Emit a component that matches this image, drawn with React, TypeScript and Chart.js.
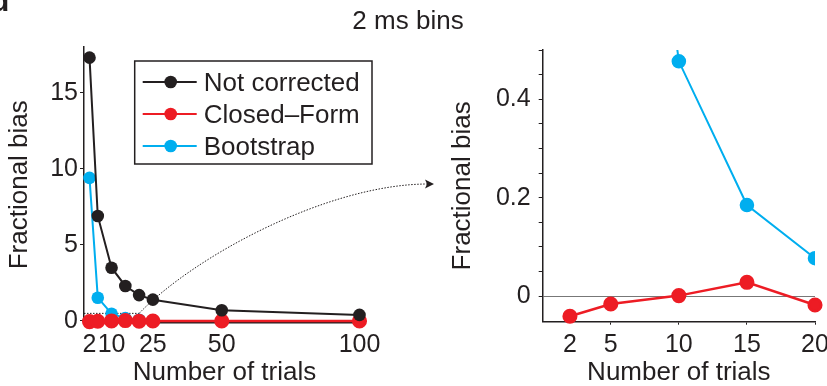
import React, { useEffect, useRef } from "react";
import { Chart, registerables } from "chart.js";
Chart.register(...registerables);

const trials = [2, 5, 10, 15, 20, 25, 50, 100];
const notCorrected = [17.3, 6.9, 3.5, 2.3, 1.7, 1.4, 0.7, 0.4];
const closedForm = [-0.041, -0.016, 0.001, 0.028, -0.018, 0, 0, 0];
const bootstrap = [9.4, 1.53, 0.477, 0.185, 0.077];
const seriesLabels = ["Not corrected", "Closed\u2013Form", "Bootstrap"];
const leftXTicks = [2, 10, 25, 50, 100];
const leftYTicks = [0, 5, 10, 15];
const rightXTicks = [2, 5, 10, 15, 20];
const rightYTicks = [0, 0.05, 0.1, 0.15, 0.2, 0.25, 0.3, 0.35, 0.4, 0.45, 0.5];
const rightYLabels = [0, 0.2, 0.4];
const zoomMaxTrials = 20;
const zoomMaxBias = 0.5;
const figureTitle = "2 ms bins";
const panelLetter = "d";

const BLACK = "#231f20";
const RED = "#ed1c24";
const BLUE = "#00aeef";
const FONT = "'Liberation Sans', Arial, Helvetica, sans-serif";

const pts = (ys: number[]) => ys.map((y, i) => ({ x: trials[i], y }));
const zoomPts = (ys: number[]) =>
  pts(ys).filter((p) => p.x <= zoomMaxTrials);

const overlayPlugin = {
  id: "overlay",
  beforeDatasetsDraw(chart: any) {
    const { ctx, chartArea, scales } = chart;
    const xs = scales.x;
    const ys = scales.y;
    const bx = xs.getPixelForValue(zoomMaxTrials);
    const by = ys.getPixelForValue(zoomMaxBias);
    ctx.save();
    ctx.strokeStyle = BLACK;
    ctx.lineWidth = 1;
    ctx.setLineDash([1.5, 1.5]);
    ctx.beginPath();
    ctx.moveTo(chartArea.left, by);
    ctx.lineTo(bx, by);
    ctx.lineTo(bx, chartArea.bottom);
    ctx.stroke();
    // curved dotted arrow to zoom panel
    const ex = 428;
    const ey = 184;
    ctx.beginPath();
    ctx.moveTo(bx, by);
    ctx.bezierCurveTo(bx + 56, by - 58, bx + 190, ey, ex, ey);
    ctx.stroke();
    ctx.setLineDash([]);
    ctx.fillStyle = BLACK;
    ctx.beginPath();
    ctx.moveTo(ex + 6, ey);
    ctx.lineTo(ex - 3, ey - 4.5);
    ctx.lineTo(ex - 1, ey);
    ctx.lineTo(ex - 3, ey + 4.5);
    ctx.closePath();
    ctx.fill();
    ctx.restore();
  },
  afterDraw(chart: any) {
    const { ctx, chartArea } = chart;
    ctx.save();
    // legend
    const lx = chartArea.left + 50.7;
    const ly = chartArea.top + 14;
    const lw = 237.3;
    const lh = 103;
    ctx.fillStyle = "#ffffff";
    ctx.fillRect(lx, ly, lw, lh);
    ctx.strokeStyle = BLACK;
    ctx.lineWidth = 1.5;
    ctx.strokeRect(lx, ly, lw, lh);
    ctx.font = `26px ${FONT}`;
    ctx.textBaseline = "middle";
    ctx.textAlign = "left";
    chart.data.datasets.forEach((ds: any, i: number) => {
      const cy = ly + 21 + i * 32;
      ctx.strokeStyle = ds.borderColor;
      ctx.lineWidth = 2;
      ctx.beginPath();
      ctx.moveTo(lx + 8, cy);
      ctx.lineTo(lx + 62, cy);
      ctx.stroke();
      ctx.fillStyle = ds.borderColor;
      ctx.beginPath();
      ctx.arc(lx + 36, cy, 6.3, 0, Math.PI * 2);
      ctx.fill();
      ctx.fillStyle = BLACK;
      ctx.fillText(ds.label, lx + 69, cy + 1.5);
    });
    // figure title
    ctx.textAlign = "center";
    ctx.font = `26px ${FONT}`;
    ctx.fillText(figureTitle, 408, 22);
    // panel letter (cropped)
    ctx.textAlign = "left";
    ctx.textBaseline = "alphabetic";
    ctx.font = `bold 30px ${FONT}`;
    ctx.fillText(panelLetter, -9, 11);
    ctx.restore();
  },
};

const fixPad = (s: any) => {
  s.paddingLeft = 0;
  s.paddingRight = 0;
  s.paddingTop = 0;
  s.paddingBottom = 0;
};

export default function App() {
  const leftRef = useRef<HTMLCanvasElement>(null);
  const rightRef = useRef<HTMLCanvasElement>(null);

  useEffect(() => {
    document.body.style.margin = "0";
    Chart.defaults.font.family = FONT;
    Chart.defaults.color = BLACK;

    const tickFont = { size: 25, family: FONT };
    const titleFont = { size: 26, family: FONT, lineHeight: 1 };

    const left = new Chart(leftRef.current!, {
      type: "line",
      data: {
        datasets: [
          { label: seriesLabels[0], data: pts(notCorrected), borderColor: BLACK, backgroundColor: BLACK, clip: false },
          { label: seriesLabels[1], data: pts(closedForm), borderColor: RED, backgroundColor: RED, borderWidth: 2.5, clip: false },
          { label: seriesLabels[2], data: pts(bootstrap), borderColor: BLUE, backgroundColor: BLUE, clip: false },
        ],
      },
      options: {
        animation: false,
        responsive: false,
        layout: { padding: { left: 0, top: 47, right: 462, bottom: 0 } },
        plugins: { legend: { display: false }, tooltip: { enabled: false } },
        elements: {
          point: { radius: 6.3, borderWidth: 0, hoverRadius: 6.3 },
          line: { borderWidth: 2, tension: 0 },
        },
        scales: {
          x: {
            type: "linear",
            min: 0,
            max: 102,
            afterBuildTicks: (s: any) => {
              s.ticks = leftXTicks.map((v) => ({ value: v }));
            },
            afterFit: (s: any) => {
              s.height = 63.5;
              fixPad(s);
            },
            ticks: { font: tickFont, color: BLACK, padding: 8, autoSkip: false, maxRotation: 0, callback: (v: any) => String(v) },
            grid: { display: true, drawOnChartArea: false, drawTicks: false },
            border: { display: true, color: BLACK, width: 1.5 },
            title: { display: true, text: "Number of trials", font: titleFont, color: BLACK, padding: { top: 0, bottom: 0 } },
          },
          y: {
            type: "linear",
            min: -0.1,
            max: 18,
            afterBuildTicks: (s: any) => {
              s.ticks = leftYTicks.map((v) => ({ value: v }));
            },
            afterFit: (s: any) => {
              s.width = 84;
              fixPad(s);
            },
            ticks: { font: tickFont, color: BLACK, padding: 2, callback: (v: any) => String(v) },
            grid: { display: true, drawOnChartArea: false, drawTicks: true, tickLength: 4, color: BLACK, tickColor: BLACK },
            border: { display: true, color: BLACK, width: 1.5 },
            title: { display: true, text: "Fractional bias", font: titleFont, color: BLACK, padding: { top: 7, bottom: 0 } },
          },
        },
      },
      plugins: [overlayPlugin],
    } as any);

    const right = new Chart(rightRef.current!, {
      type: "line",
      data: {
        datasets: [
          { label: seriesLabels[1], data: zoomPts(closedForm), borderColor: RED, backgroundColor: RED, borderWidth: 2.5, clip: false },
          { label: seriesLabels[2], data: zoomPts(bootstrap), borderColor: BLUE, backgroundColor: BLUE, borderWidth: 2 },
        ],
      },
      options: {
        animation: false,
        responsive: false,
        layout: { padding: { left: 0, top: 50, right: 12, bottom: 0 } },
        plugins: { legend: { display: false }, tooltip: { enabled: false } },
        elements: {
          point: { radius: 6.3, borderWidth: 0, hoverRadius: 6.3 },
          line: { tension: 0 },
        },
        scales: {
          x: {
            type: "linear",
            min: 0,
            max: zoomMaxTrials,
            afterBuildTicks: (s: any) => {
              s.ticks = rightXTicks.map((v) => ({ value: v }));
            },
            afterFit: (s: any) => {
              s.height = 64.3;
              fixPad(s);
            },
            ticks: { font: tickFont, color: BLACK, padding: 5, autoSkip: false, maxRotation: 0, callback: (v: any) => String(v) },
            grid: {
              display: true,
              drawOnChartArea: false,
              drawTicks: true,
              tickLength: 3,
              tickColor: (c: any) => (c.tick && c.tick.value === rightXTicks[0] ? "rgba(0,0,0,0)" : BLACK),
            },
            border: { display: true, color: BLACK, width: 1.5 },
            title: { display: true, text: "Number of trials", font: titleFont, color: BLACK, padding: { top: 0, bottom: 0 } },
          },
          y: {
            type: "linear",
            min: -0.052,
            max: zoomMaxBias,
            afterBuildTicks: (s: any) => {
              s.ticks = rightYTicks.map((v) => ({ value: v }));
            },
            afterFit: (s: any) => {
              s.width = 102.7;
              fixPad(s);
            },
            ticks: {
              font: tickFont,
              color: BLACK,
              padding: 8,
              autoSkip: false,
              callback: (v: any) => {
                const hit = rightYLabels.find((l) => Math.abs(l - v) < 1e-9);
                if (hit === undefined) return "";
                return hit === 0 ? "0" : hit.toFixed(1);
              },
            },
            grid: {
              display: true,
              drawOnChartArea: true,
              drawTicks: true,
              tickLength: 4,
              lineWidth: 1,
              color: (c: any) => (c.tick && Math.abs(c.tick.value) < 1e-9 ? "#777777" : "rgba(0,0,0,0)"),
              tickColor: BLACK,
            },
            border: { display: true, color: BLACK, width: 1.5 },
            title: { display: true, text: "Fractional bias", font: titleFont, color: BLACK, padding: { top: 10, bottom: 0 } },
          },
        },
      },
    } as any);

    return () => {
      left.destroy();
      right.destroy();
    };
  }, []);

  return (
    <div style={{ position: "fixed", left: 0, top: 0, width: 827, height: 386, background: "#ffffff", overflow: "hidden" }}>
      <canvas ref={leftRef} width={827} height={386} style={{ position: "absolute", left: 0, top: 0, width: 827, height: 386 }} />
      <canvas ref={rightRef} width={387} height={386} style={{ position: "absolute", left: 440, top: 0, width: 387, height: 386 }} />
    </div>
  );
}
